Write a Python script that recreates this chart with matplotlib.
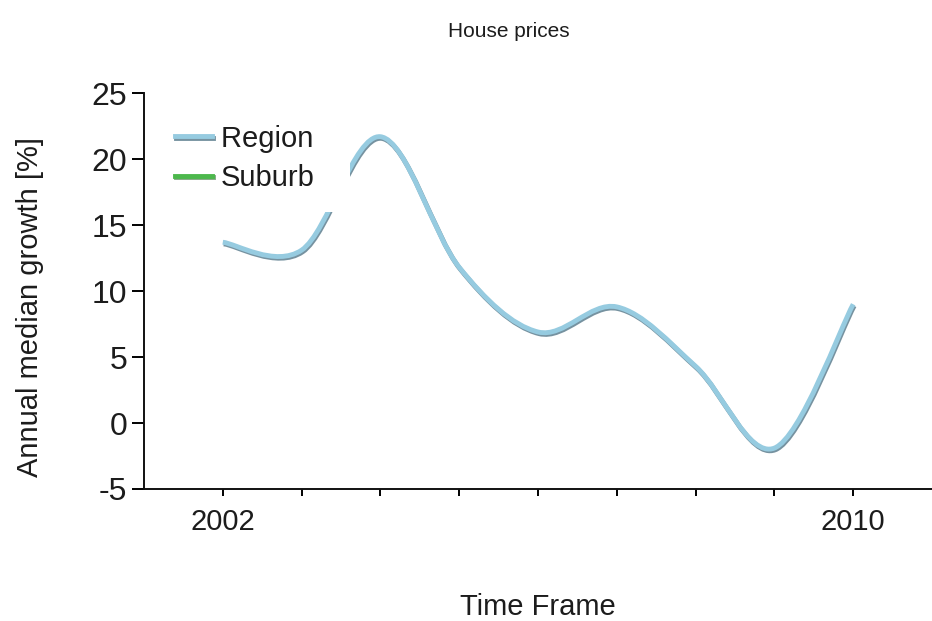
import numpy as np
import matplotlib
matplotlib.use('Agg')
import matplotlib.pyplot as plt
import matplotlib.patheffects as pe
from matplotlib.path import Path
from matplotlib.patches import PathPatch

plt.rcParams['font.family'] = ['Liberation Sans', 'DejaVu Sans']
plt.rcParams['axes.unicode_minus'] = False

# data
years = [2002, 2003, 2004, 2005, 2006, 2007, 2008, 2009, 2010]
region = [13.7, 13.1, 21.7, 11.8, 6.9, 8.8, 4.3, -1.9, 9.0]
suburb = []
x_labels = {2002: '2002', 2010: '2010'}
y_ticks = [-5, 0, 5, 10, 15, 20, 25]

line_blue = '#96cbe0'
shadow_blue = '#3c6478'
line_green = '#4cb84c'
text_col = '#1c1c1c'


def spline_path(xs, ys, tension=0.5):
    # cardinal spline as cubic bezier segments (like the .NET "Spline" chart)
    pts = np.column_stack([xs, ys]).astype(float)
    n = len(pts)
    verts = [pts[0]]
    codes = [Path.MOVETO]
    for i in range(n - 1):
        p0 = pts[i - 1] if i > 0 else pts[i]
        p1 = pts[i]
        p2 = pts[i + 1]
        p3 = pts[i + 2] if i + 2 < n else pts[i + 1]
        c1 = p1 + tension * (p2 - p0) / 3
        c2 = p2 - tension * (p3 - p1) / 3
        verts += [c1, c2, p2]
        codes += [Path.CURVE4] * 3
    return Path(verts, codes)


fig = plt.figure(figsize=(9.32, 6.21), dpi=100)
ax = fig.add_axes([0.1545, 0.2126, 0.8455, 0.6374])

shadow = [pe.SimpleLineShadow(offset=(0.7, -1.2), shadow_color=shadow_blue, alpha=0.7), pe.Normal()]

patch = PathPatch(spline_path(years, region), facecolor='none', edgecolor=line_blue,
                  lw=3.5, capstyle='butt', joinstyle='round', zorder=3)
patch.set_path_effects(shadow)
ax.add_patch(patch)

# legend handles
ax.plot([], [], color=line_blue, lw=3.5, label='Region  ', path_effects=shadow)
ax.plot(suburb, suburb, color=line_green, lw=3.5, label='Suburb',
        path_effects=[pe.SimpleLineShadow(offset=(0.7, -1.2), shadow_color='#2f6a2f', alpha=0.6), pe.Normal()])

ax.set_xlim(2001, 2011)
ax.set_ylim(-5, 25)
ax.set_xticks(years)
ax.set_xticklabels([x_labels.get(y, '') for y in years])
ax.set_yticks(y_ticks)
ax.set_yticklabels([str(v) for v in y_ticks])

for s in ['top', 'right']:
    ax.spines[s].set_visible(False)
for s in ['left', 'bottom']:
    ax.spines[s].set_linewidth(1.4)
    ax.spines[s].set_color('#111111')
ax.tick_params(axis='x', length=5, width=1.4, pad=9, labelsize=21, labelcolor=text_col)
ax.tick_params(axis='y', length=9, width=1.4, pad=3, labelsize=23, labelcolor=text_col)

ax.set_xlabel('Time Frame', fontsize=21, color=text_col, va='top')
ax.xaxis.set_label_coords(0.5, -0.262)
ax.set_ylabel('Annual median growth [%]', fontsize=21, color=text_col)
ax.yaxis.set_label_coords(-0.127, 0.46)

fig.text(0.546, 0.95, 'House prices', fontsize=15, color=text_col, ha='center', va='center')

leg = ax.legend(loc='upper left', bbox_to_anchor=(0.014, 0.972), fontsize=21,
                frameon=True, facecolor='white', edgecolor='none', framealpha=1,
                fancybox=False, handlelength=1.25, handletextpad=0.3,
                labelspacing=0.38, borderpad=0.7, borderaxespad=0)
leg.set_zorder(5)
for t in leg.get_texts():
    t.set_color(text_col)

fig.savefig('out.png', dpi=100)
